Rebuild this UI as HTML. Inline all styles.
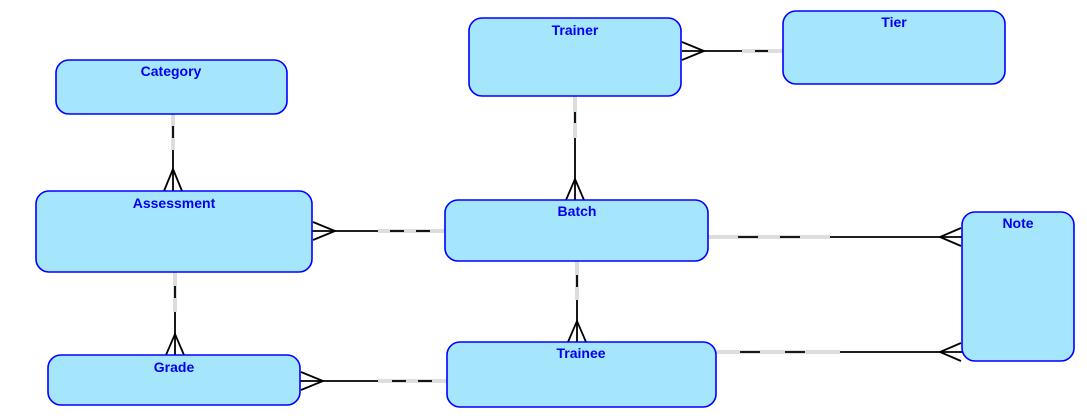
<!DOCTYPE html>
<html><head><meta charset="utf-8"><style>
html,body{margin:0;padding:0;background:#fff;width:1087px;height:418px;overflow:hidden}
svg text{font-family:"Liberation Sans",sans-serif;font-weight:bold;font-size:14px;fill:#0000ee;text-anchor:middle}
.b{fill:#a6e6fc;stroke:#0000ff;stroke-width:1.6}
.k{stroke:#000;stroke-width:1.8;fill:none}
.g{stroke:#bbb;stroke-width:3;fill:none}
.w{stroke:#fff;stroke-width:1;fill:none}
</style></head><body>
<svg width="1087" height="418" xmlns="http://www.w3.org/2000/svg">
<!-- connectors -->
<!-- Trainer-Tier -->
<line class="g" x1="742" y1="51" x2="783" y2="51"/><line class="w" x1="742" y1="51" x2="783" y2="51"/>
<line class="k" x1="755" y1="51" x2="768" y2="51"/>
<line class="k" x1="682" y1="51" x2="742" y2="51"/>
<path class="k" d="M682 42 L704 51 L682 60"/>
<!-- Category-Assessment -->
<line class="g" x1="173" y1="114" x2="173" y2="150"/><line class="w" x1="173" y1="114" x2="173" y2="150"/>
<line class="k" x1="173" y1="126" x2="173" y2="138"/>
<line class="k" x1="173" y1="150" x2="173" y2="191"/>
<path class="k" d="M164 191 L173 169 L182 191"/>
<!-- Trainer-Batch -->
<line class="g" x1="575" y1="96" x2="575" y2="138"/><line class="w" x1="575" y1="96" x2="575" y2="138"/>
<line class="k" x1="575" y1="112" x2="575" y2="123"/>
<line class="k" x1="575" y1="138" x2="575" y2="200"/>
<path class="k" d="M566 200 L575 179 L584 200"/>
<!-- Assessment-Batch -->
<line class="g" x1="378" y1="231" x2="445" y2="231"/><line class="w" x1="378" y1="231" x2="445" y2="231"/>
<line class="k" x1="390" y1="231" x2="404" y2="231"/><line class="k" x1="416" y1="231" x2="430" y2="231"/>
<line class="k" x1="312" y1="231" x2="378" y2="231"/>
<path class="k" d="M313 222 L335 231 L313 240"/>
<!-- Batch-Note -->
<line class="g" x1="708" y1="237" x2="830" y2="237"/><line class="w" x1="708" y1="237" x2="830" y2="237"/>
<line class="k" x1="738" y1="237" x2="758" y2="237"/><line class="k" x1="780" y1="237" x2="800" y2="237"/>
<line class="k" x1="830" y1="237" x2="962" y2="237"/>
<path class="k" d="M961 228 L940 237 L961 246"/>
<!-- Batch-Trainee -->
<line class="g" x1="577" y1="261" x2="577" y2="300"/><line class="w" x1="577" y1="261" x2="577" y2="300"/>
<line class="k" x1="577" y1="275" x2="577" y2="287"/>
<line class="k" x1="577" y1="300" x2="577" y2="342"/>
<path class="k" d="M568 342 L577 321 L586 342"/>
<!-- Assessment-Grade -->
<line class="g" x1="175" y1="272" x2="175" y2="312"/><line class="w" x1="175" y1="272" x2="175" y2="312"/>
<line class="k" x1="175" y1="286" x2="175" y2="298"/>
<line class="k" x1="175" y1="312" x2="175" y2="355"/>
<path class="k" d="M166 355 L175 334 L184 355"/>
<!-- Grade-Trainee -->
<line class="g" x1="378" y1="381" x2="447" y2="381"/><line class="w" x1="378" y1="381" x2="447" y2="381"/>
<line class="k" x1="392" y1="381" x2="406" y2="381"/><line class="k" x1="418" y1="381" x2="432" y2="381"/>
<line class="k" x1="300" y1="381" x2="378" y2="381"/>
<path class="k" d="M301 372 L323 381 L301 390"/>
<!-- Trainee-Note -->
<line class="g" x1="716" y1="352" x2="840" y2="352"/><line class="w" x1="716" y1="352" x2="840" y2="352"/>
<line class="k" x1="740" y1="352" x2="760" y2="352"/><line class="k" x1="785" y1="352" x2="805" y2="352"/>
<line class="k" x1="840" y1="352" x2="962" y2="352"/>
<path class="k" d="M961 343 L940 352 L961 361"/>

<!-- boxes -->
<rect class="b" x="469" y="18" width="212" height="78" rx="13"/><text x="575" y="35">Trainer</text>
<rect class="b" x="783" y="11" width="222" height="73" rx="13"/><text x="894" y="27">Tier</text>
<rect class="b" x="56" y="60" width="231" height="54" rx="13"/><text x="171" y="76">Category</text>
<rect class="b" x="36" y="191" width="276" height="81" rx="13"/><text x="174" y="208">Assessment</text>
<rect class="b" x="445" y="200" width="263" height="61" rx="13"/><text x="577" y="216">Batch</text>
<rect class="b" x="962" y="212" width="112" height="149" rx="13"/><text x="1018" y="228">Note</text>
<rect class="b" x="48" y="355" width="252" height="50" rx="13"/><text x="174" y="372">Grade</text>
<rect class="b" x="447" y="342" width="269" height="65" rx="13"/><text x="581" y="358">Trainee</text>
</svg>
</body></html>
